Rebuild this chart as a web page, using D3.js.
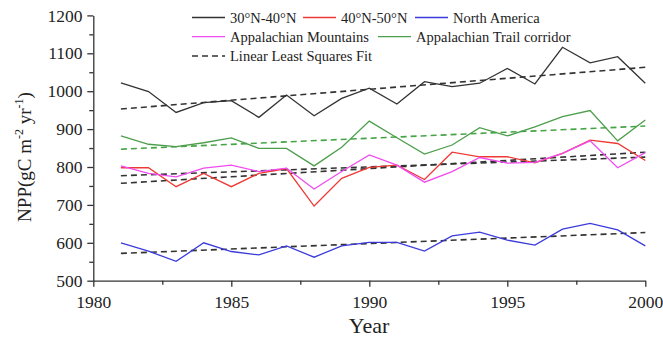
<!DOCTYPE html>
<html lang="en">
<head>
    <meta charset="utf-8">
    <title>NPP 1981-2000</title>
    <script src="https://d3js.org/d3.v7.min.js"></script>
<style>
    body { margin: 0; background: #fff; }
    #chart1 { width: 663px; height: 343px; }
    text { font-family: "Liberation Serif", "Times New Roman", serif; fill: #222; }
</style>
</head>
<body>
  <div id="chart1"></div>

<script>

    // data
    const years = [1981, 1982, 1983, 1984, 1985, 1986, 1987, 1988, 1989, 1990,
                   1991, 1992, 1993, 1994, 1995, 1996, 1997, 1998, 1999, 2000]

    const lat3040 = [1022, 999, 944, 970, 975, 931, 990, 935, 981, 1008,
                     966, 1025, 1012, 1021, 1060, 1019, 1116, 1075, 1091, 1021]
    const lat4050 = [798, 798, 748, 783, 748, 783, 796, 697, 770, 799,
                     805, 767, 839, 827, 827, 811, 836, 871, 862, 817]
    const northAmerica = [600, 578, 551, 600, 577, 568, 592, 562, 592, 601,
                          601, 578, 618, 628, 607, 594, 636, 651, 634, 592]
    const appMountains = [803, 783, 774, 797, 805, 788, 797, 742, 788, 832,
                          805, 760, 788, 825, 810, 812, 836, 869, 798, 838]
    const appTrail = [882, 860, 854, 864, 877, 849, 849, 803, 852, 921,
                      877, 834, 858, 904, 882, 906, 933, 949, 869, 924]

    // least squares fit lines, value at 1981 and at 2000
    const fitStart = [953, 757, 572, 777, 847]
    const fitEnd = [1063, 839, 627, 826, 908]

    const seriesNames = ["30°N-40°N", "40°N-50°N", "North America",
                         "Appalachian Mountains", "Appalachian Trail corridor"]
    const seriesColors = ["#333333", "#ee3a35", "#3b3bdc", "#f04cf0", "#4c9e4c"]
    const fitColors = ["#333333", "#333333", "#333333", "#333333", "#45a545"]

    const xTicks = [1980, 1985, 1990, 1995, 2000]
    const yTicks = [500, 600, 700, 800, 900, 1000, 1100, 1200]

    const nppApp = {}

    nppApp.buildChart = () => {

        d3.select('#chart1').html('')

        var svg = d3.select("#chart1")
            .append("svg")
            .attr("width", 663)
            .attr("height", 343)

        var x = d3.scaleLinear()
            .domain([1980, 2000])
            .range([93.3, 645.3])

        var y = d3.scaleLinear()
            .domain([500, 1200])
            .range([280.7, 15.4])

        // minor ticks first
        svg.append("g")
            .attr("transform", "translate(0,280.7)")
            .call(d3.axisBottom(x).tickValues(d3.range(1982.5, 2000, 5)).tickSize(4).tickFormat(""))
            .call(g => g.select(".domain").remove())
        svg.append("g")
            .attr("transform", "translate(93.3,0)")
            .call(d3.axisLeft(y).tickValues(d3.range(550, 1200, 100)).tickSize(4).tickFormat(""))
            .call(g => g.select(".domain").remove())

        // major axes
        var xAxis = svg.append("g")
            .attr("transform", "translate(0,280.7)")
            .call(d3.axisBottom(x).tickValues(xTicks).tickSize(6).tickSizeOuter(0).tickFormat(d3.format("d")))
        xAxis.selectAll("text").attr("font-size", 17.5).attr("dy", "1.05em")

        var yAxis = svg.append("g")
            .attr("transform", "translate(93.3,0)")
            .call(d3.axisLeft(y).tickValues(yTicks).tickSize(6).tickSizeOuter(0).tickFormat(d3.format("d")))
        yAxis.selectAll("text").attr("font-size", 17.5).attr("dx", "-0.1em")

        svg.selectAll(".domain, .tick line").attr("stroke", "#333").attr("stroke-width", 1.3)
        svg.selectAll(".tick text").style("font-family", '"Liberation Serif", serif').attr("fill", "#222")

        // axis titles
        svg.append("text")
            .attr("x", 369)
            .attr("y", 333)
            .attr("text-anchor", "middle")
            .attr("font-size", 22)
            .text("Year")

        var yTitle = svg.append("text")
            .attr("transform", "translate(31,157) rotate(-90)")
            .attr("text-anchor", "middle")
            .attr("font-size", 19)
        yTitle.append("tspan").text("NPP(gC m")
        yTitle.append("tspan").attr("font-size", 12).attr("dy", -8).text("-2")
        yTitle.append("tspan").attr("dy", 8).text(" yr")
        yTitle.append("tspan").attr("font-size", 12).attr("dy", -8).text("-1")
        yTitle.append("tspan").attr("dy", 8).text(")")

        var allSeries = [lat3040, lat4050, northAmerica, appMountains, appTrail]

        var line = d3.line()
            .x(function(d, i) { return x(years[i]) })
            .y(function(d) { return y(d) })

        // fit lines (drawn under the data)
        allSeries.forEach(function(s, k) {
            svg.append("line")
                .attr("x1", x(years[0]))
                .attr("x2", x(years[years.length - 1]))
                .attr("y1", y(fitStart[k]))
                .attr("y2", y(fitEnd[k]))
                .attr("stroke", fitColors[k])
                .attr("stroke-width", 1.6)
                .attr("stroke-dasharray", "6,4")
        })

        allSeries.forEach(function(s, k) {
            svg.append("path")
                .datum(s)
                .attr("d", line)
                .attr("fill", "none")
                .attr("stroke", seriesColors[k])
                .attr("stroke-width", 1.3)
        })

        // legend
        var legendItems = [
            {label: seriesNames[0], color: seriesColors[0], x: 192, y: 17.5},
            {label: seriesNames[1], color: seriesColors[1], x: 303, y: 17.5},
            {label: seriesNames[2], color: seriesColors[2], x: 415, y: 17.5},
            {label: seriesNames[3], color: seriesColors[3], x: 192, y: 36.7},
            {label: seriesNames[4], color: seriesColors[4], x: 378, y: 36.7},
            {label: "Linear Least Squares Fit", color: "#333333", x: 192, y: 56, dash: true}
        ]

        var legend = svg.append("g")
        legendItems.forEach(function(d) {
            legend.append("line")
                .attr("x1", d.x)
                .attr("x2", d.x + 33)
                .attr("y1", d.y)
                .attr("y2", d.y)
                .attr("stroke", d.color)
                .attr("stroke-width", d.dash ? 1.6 : 1.3)
                .attr("stroke-dasharray", d.dash ? "6,4" : null)
            legend.append("text")
                .attr("x", d.x + 38)
                .attr("y", d.y + 5)
                .attr("font-size", 14.5)
                .text(d.label)
        })
    }

    nppApp.init = () => {
        nppApp.buildChart()
    }
    nppApp.init()

</script>
</body>
</html>
